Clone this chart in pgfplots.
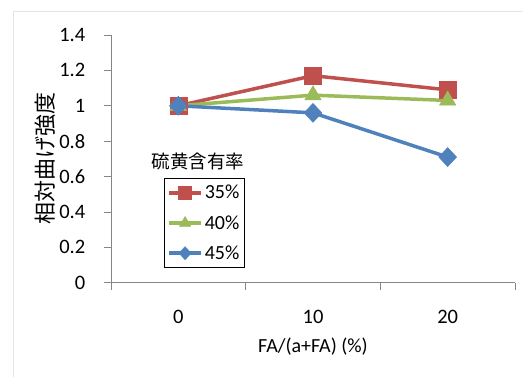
\documentclass[border=0pt]{standalone}
\usepackage{fontspec}
\setmainfont{Carlito}
\newfontfamily\jp{Noto Sans CJK JP}
\usepackage{pgfplots}
\pgfplotsset{compat=1.18}

\definecolor{sred}{HTML}{C0504D}
\definecolor{sgreen}{HTML}{9BBB59}
\definecolor{sblue}{HTML}{4F81BD}
\definecolor{axgray}{HTML}{868686}
\definecolor{framegray}{HTML}{E4E4E4}

\begin{document}
\begin{tikzpicture}[x=1pt,y=1pt]
\useasboundingbox (0,0) rectangle (523,376);
% chart area frame
\draw[framegray, line width=1pt] (13,-5) -- (13,364.5) -- (530,364.5);
\begin{axis}[
  at={(111pt,93.3pt)}, anchor=south west,
  scale only axis, width=404pt, height=247.7pt,
  xmin=-0.5, xmax=2.5, ymin=0, ymax=1.4,
  axis x line*=bottom, axis y line*=left,
  axis line style={axgray, line width=0.8pt},
  tick align=outside,
  major tick length=6.5pt, minor tick length=7pt,
  every tick/.style={axgray, line width=0.8pt},
  xtick={0,1,2}, xticklabels={0,10,20},
  major x tick style={draw=none},
  minor xtick={-0.5,0.5,1.5,2.5},
  ytick={0,0.2,...,1.4},
  yticklabels={0,0.2,0.4,0.6,0.8,1,1.2,1.4},
  /pgf/number format/assume math mode=true,
  ticklabel style={font=\fontsize{20.5}{24}\selectfont, text=black},
  yticklabel style={anchor=east, inner sep=0pt, xshift=-19pt},
  xticklabel style={anchor=north, inner sep=0pt, yshift=-21pt},
  legend style={at={(0.131,0.423)}, anchor=north west,
    draw=black, line width=0.8pt,
    font=\fontsize{20}{22}\selectfont,
    inner xsep=3pt, inner ysep=5pt, row sep=11pt,
    /tikz/every even column/.append style={column sep=0pt}},
  legend cell align=left,
  legend image code/.code={
    \draw[line width=3.5pt, #1, mark=none] (0pt,0pt) -- (32pt,0pt);
    \draw[#1, line width=0.5pt, mark size=6.5pt] plot coordinates {(16pt,0pt)};
  },
  clip=false,
]
\addplot[sred, line width=3.5pt, mark=square*, mark size=8.5pt,
  mark options={fill=sred, draw=sred, line width=0.5pt}]
  coordinates {(0,1.00) (1,1.17) (2,1.09)};
\addlegendentry{35\%}
\addplot[sgreen, line width=3.5pt, mark=triangle*, mark size=9.5pt,
  mark options={fill=sgreen, draw=sgreen, line width=0.5pt}]
  coordinates {(0,1.00) (1,1.06) (2,1.03)};
\addlegendentry{40\%}
\addplot[sblue, line width=3.5pt, mark=diamond*, mark size=9.5pt,
  mark options={fill=sblue, draw=sblue, line width=0.5pt, xscale=1.25}]
  coordinates {(0,1.00) (1,0.96) (2,0.71)};
\addlegendentry{45\%}
\end{axis}
% axis titles and legend heading
\node[font=\jp\fontsize{22}{24}\selectfont, rotate=90] at (45,218) {相対曲げ強度};
\node[font=\fontsize{20}{24}\selectfont] at (313,29) {FA/(a+FA) (\%)};
\node[font=\jp\fontsize{18.5}{22}\selectfont] at (198,215) {硫黄含有率};
\end{tikzpicture}
\end{document}
